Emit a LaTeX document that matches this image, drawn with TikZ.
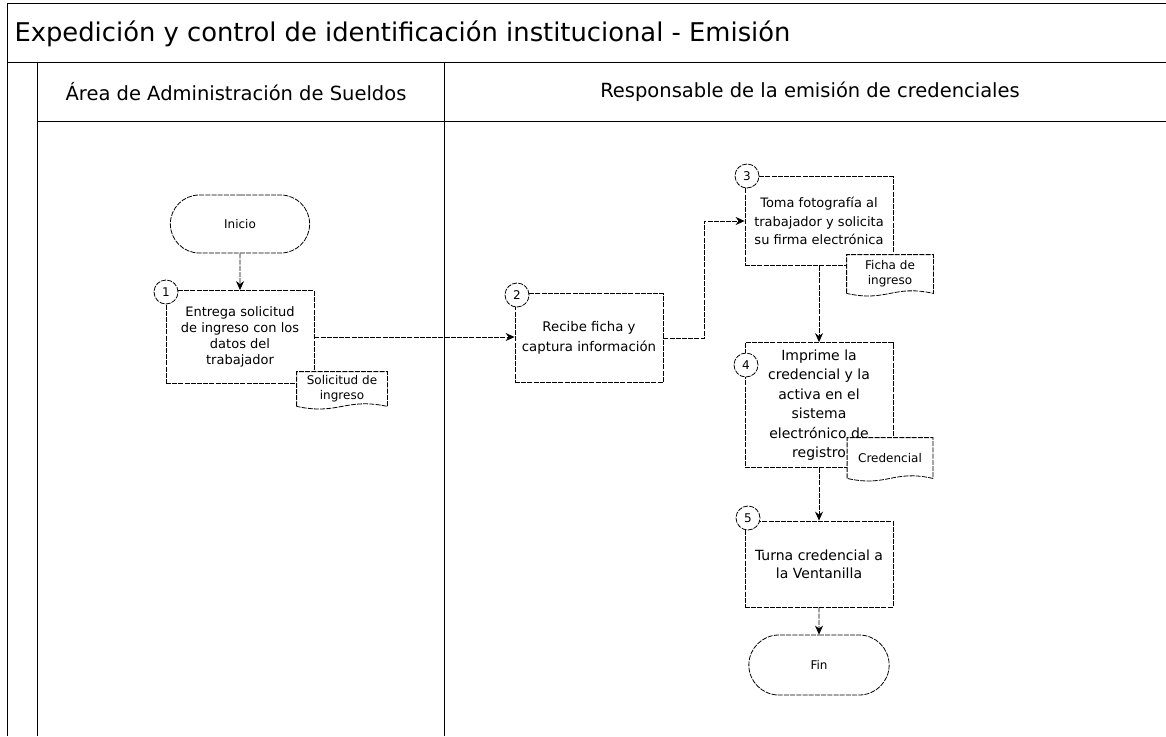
\documentclass[tikz,border=0pt]{standalone}
\usepackage{fontspec}
\setmainfont{DejaVu Sans}
\usetikzlibrary{arrows.meta,shapes.misc}

\tikzset{
	trazo/.style={line width=0.8pt, dash pattern=on 5pt off 1.2pt},
	marco/.style={line width=0.9pt},
	proc/.style={trazo, draw, rectangle, minimum width=148pt, minimum height=#1, align=center, inner sep=1pt},
	term/.style={trazo, draw, rounded rectangle, minimum width=146pt, minimum height=58pt, font=\fontsize{12}{14}\selectfont},
	num/.style={trazo, draw, circle, fill=white, inner sep=0pt, minimum size=24pt, font=\fontsize{12}{14}\selectfont},
	docu/.style={rectangle, minimum width=#1, minimum height=34pt, align=center, inner sep=1pt, font=\fontsize{12}{15}\selectfont},
	flujo/.style={trazo, -{Stealth[length=9pt,width=8pt]}}
}

\begin{document}
\begin{tikzpicture}[x=1pt,y=-1pt]
		\useasboundingbox (0,0) rectangle (1166,736);
		
		% marco del diagrama
		\draw[marco] (1166,3) -- (7,3) -- (7,736);
		\draw[marco] (7,62) -- (1166,62);
		\draw[marco] (37,121) -- (1166,121);
		\draw[marco] (37,62) -- (37,736);
		\draw[marco] (444,62) -- (444,736);
		
		\node[anchor=west, font=\fontsize{25.8}{30}\selectfont] (titulo) at (11,34) {Expedición y control de identificación institucional - Emisión};
		\node[font=\fontsize{19.5}{23}\selectfont] (carrilA) at (236,92) {Área de Administración de Sueldos};
		\node[font=\fontsize{19.5}{23}\selectfont] (carrilB) at (810,92) {Responsable de la emisión de credenciales};
		
		% actividades
		\node[term] (ini) at (240,224) {Inicio};
		\node[proc=93pt, font=\fontsize{13}{16}\selectfont] (b1) at (240,337) {Entrega solicitud\\de ingreso con los\\datos del\\trabajador};
		\node[proc=89pt, font=\fontsize{13.3}{20}\selectfont] (b2) at (589,338) {Recibe ficha y\\captura información};
		\node[proc=89pt, font=\fontsize{13}{18.5}\selectfont] (b3) at (819,221) {Toma fotografía al\\trabajador y solicita\\su firma electrónica};
		\node[proc=125pt, font=\fontsize{14}{19.5}\selectfont] (b4) at (819,405) {Imprime la\\credencial y la\\activa en el\\sistema\\electrónico de\\registro};
		\node[proc=86pt, font=\fontsize{14}{18}\selectfont] (b5) at (819,564) {Turna credencial a\\la Ventanilla};
		\node[term, minimum width=147pt, minimum height=60pt] (fin) at (819,665) {Fin};
		
		% documentos
		\draw[trazo, fill=white] (342,389) node[docu=90pt] (sol) {Solicitud de\\ingreso}
			(sol.south west) |- (sol.north east) -- (sol.south east) .. controls +(-42,-9) and +(42,9) .. (sol.south west) -- cycle;
		\draw[trazo, fill=white] (890,274) node[docu=86pt, minimum height=38pt] (ficha) {Ficha de\\ingreso}
			(ficha.south west) |- (ficha.north east) -- (ficha.south east) .. controls +(-40,-9) and +(40,9) .. (ficha.south west) -- cycle;
		\draw[trazo, fill=white] (890,458) node[docu=85pt, minimum height=40pt] (cred) {Credencial}
			(cred.south west) |- (cred.north east) -- (cred.south east) .. controls +(-40,-9) and +(40,9) .. (cred.south west) -- cycle;
		
		% numeros
		\node[num] (n1) at (166,292) {1};
		\node[num] (n2) at (517,295) {2};
		\node[num] (n3) at (747,176) {3};
		\node[num] (n4) at (746,365) {4};
		\node[num] (n5) at (748,518) {5};
		
		% conectores
		\draw[flujo] (ini) -- (b1);
		\draw[flujo] (b1.east) -- (b1.east -| b2.west);
		\draw[flujo] (b2.east) -- ++(41,0) |- (b3.west);
		\draw[flujo] (b3) -- (b4);
		\draw[flujo] (b4) -- (b5);
		\draw[flujo] (b5) -- (fin);
	\end{tikzpicture}
\end{document}
